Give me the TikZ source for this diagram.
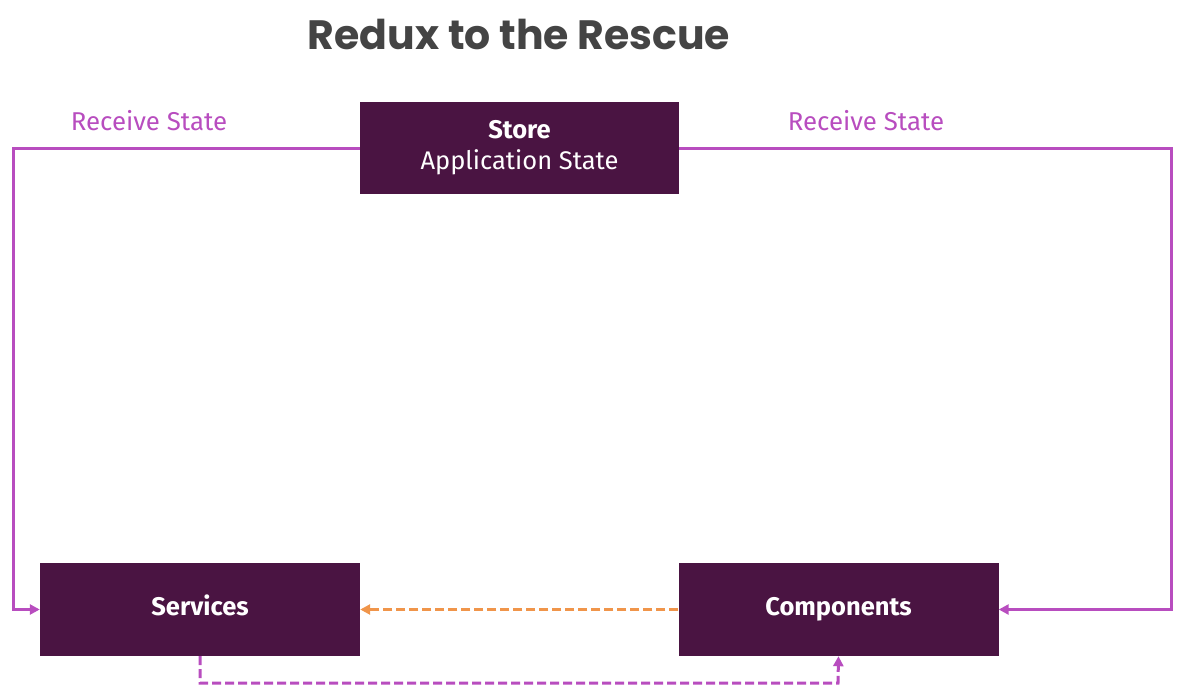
\documentclass[tikz,border=0pt]{standalone}
\usepackage{fontspec}
\setmainfont{Fira Sans}
\newfontfamily\titlefont{Poppins}
\usetikzlibrary{arrows.meta}
\definecolor{boxfill}{HTML}{4A1442}
\definecolor{flowpurple}{HTML}{B84DBF}
\definecolor{floworange}{HTML}{F0954A}
\definecolor{titlegray}{HTML}{444444}
\tikzset{
  box/.style={draw=none, fill=boxfill, text=white, minimum width=320pt, minimum height=93pt, inner sep=0pt, align=center, font=\fontsize{25.5}{31}\selectfont},
  single/.style={text height=18pt, text depth=6pt},
  flow/.style={draw=flowpurple, line width=3pt, -{Triangle[length=10pt,width=10pt]}},
  dflow/.style={flow, dash pattern=on 9pt off 4pt},
  oflow/.style={draw=floworange, line width=3pt, dash pattern=on 9pt off 4pt, -{Triangle[length=10pt,width=10pt]}},
  lbl/.style={text=flowpurple, font=\fontsize{25.8}{28}\selectfont},
}
\begin{document}
\begin{tikzpicture}[x=1pt,y=-1pt]
\useasboundingbox (0,0) rectangle (1187,691);
\node[text=titlegray, font=\titlefont\bfseries\fontsize{41}{46}\selectfont] (title) at (519,34) {Redux to the Rescue};
\node[box, minimum width=319pt, minimum height=92pt] (store) at (519.5,148) {\bfseries Store\\ Application State};
\node[box, single] (services) at (200,609.5) {\bfseries Services};
\node[box, single] (components) at (838.5,609.5) {\bfseries Components};
\coordinate (lt) at (13,148);
\coordinate (rt) at (1171,148);
\coordinate (bl) at (200,683);
\coordinate (br) at (838,683);
\draw[flow] (store.west) -- (lt) |- (services.west);
\draw[flow] (store.east) -- (rt) |- (components.east);
\draw[oflow] (components.west) -- (services.east);
\draw[dflow] (services.south) -- (bl) -- (br) -- (components.south);
\node[lbl] (lblL) at (149,121) {Receive State};
\node[lbl] (lblR) at (866,121) {Receive State};
\end{tikzpicture}
\end{document}
